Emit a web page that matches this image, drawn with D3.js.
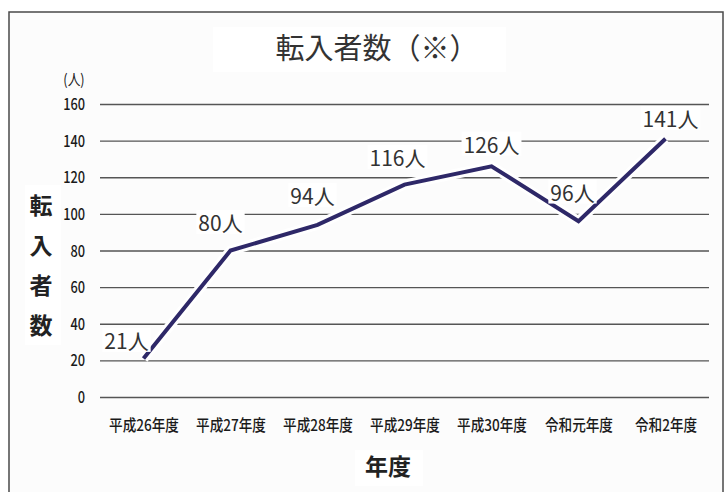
<!DOCTYPE html>
<html>
<head>
<meta charset="utf-8">
<script src="https://cdn.jsdelivr.net/npm/d3@7"></script>
<style>
  html, body { margin: 0; padding: 0; background: #ffffff; }
  svg { display: block; }
</style>
</head>
<body>
<svg id="chart" width="728" height="492"></svg>
<script>
// ---- data ----
const categories = ["平成26年度", "平成27年度", "平成28年度", "平成29年度", "平成30年度", "令和元年度", "令和2年度"];
const values = [21, 80, 94, 116, 126, 96, 141];
const yTicks = [0, 20, 40, 60, 80, 100, 120, 140, 160];
const valueSuffix = "人";
const chartTitle = "転入者数（※）";
const yTitle = ["転", "入", "者", "数"];
const yUnit = "(人)";
const xTitle = "年度";

// ---- layout (label nudges, pixels) ----
const labelDx = [-17, -10, -5, -7, 0, -6, 5];
const labelDy = [-17, -27, -28, -26, -21, -28, -19];

const svg = d3.select("#chart");
const W = 728, H = 492;
const plotL = 100, plotR = 709, plotT = 104, plotB = 397;
const fontCJK = "'Noto Sans CJK JP', 'Noto Sans', sans-serif";

svg.append("rect").attr("width", W).attr("height", H).attr("fill", "#ffffff");
// frame
svg.append("rect").attr("x", 9).attr("y", 12).attr("width", 714).attr("height", 500)
  .attr("fill", "#fcfcfc").attr("stroke", "#4a4a4a").attr("stroke-width", 1.5);

// white boxes behind titles
svg.append("rect").attr("x", 213).attr("y", 27).attr("width", 293).attr("height", 45).attr("fill", "#fff");
svg.append("rect").attr("x", 25).attr("y", 185).attr("width", 36).attr("height", 160).attr("fill", "#fff");
svg.append("rect").attr("x", 355).attr("y", 450).attr("width", 68).attr("height", 36).attr("fill", "#fff");

const x = d3.scalePoint().domain(categories).range([plotL, plotR]).padding(0.5);
const y = d3.scaleLinear().domain([0, 160]).range([plotB, plotT]);

// y axis with gridlines
const yAxis = svg.append("g").attr("transform", `translate(${plotL},0)`)
  .call(d3.axisLeft(y).tickValues(yTicks).tickSize(-(plotR - plotL)).tickSizeOuter(0));
yAxis.select(".domain").remove();
yAxis.selectAll(".tick line").attr("stroke", "#555").attr("stroke-width", 1.4);
yAxis.selectAll(".tick text")
  .attr("x", null).attr("dy", "0.35em")
  .attr("transform", "translate(-15,0) scale(0.8,1)")
  .attr("text-anchor", "end")
  .attr("fill", "#1a1a1a")
  .style("font-family", fontCJK).style("font-size", "16px").style("font-weight", "500");

// x axis labels
const xAxis = svg.append("g").attr("transform", `translate(0,${plotB})`)
  .call(d3.axisBottom(x).tickSize(0).tickPadding(0));
xAxis.select(".domain").remove();
xAxis.selectAll(".tick text")
  .attr("y", null).attr("dy", null)
  .attr("transform", "translate(0,34) scale(0.85,1)")
  .attr("fill", "#1a1a1a")
  .style("font-family", fontCJK).style("font-size", "16px").style("font-weight", "500");

// line
const line = d3.line().x((d, i) => x(categories[i])).y(d => y(d));
svg.append("path").datum(values).attr("d", line)
  .attr("fill", "none").attr("stroke", "#ffffff").attr("stroke-width", 10)
  .attr("stroke-linejoin", "miter");
svg.append("path").datum(values).attr("d", line)
  .attr("fill", "none").attr("stroke", "#2e2868").attr("stroke-width", 4)
  .attr("stroke-linejoin", "miter");

// value labels
const lg = svg.append("g");
values.forEach((v, i) => {
  const cx = x(categories[i]) + labelDx[i];
  const cy = y(v) + labelDy[i];
  const g = lg.append("g");
  const t = g.append("text")
    .attr("x", cx).attr("y", cy).attr("dy", "0.35em")
    .attr("text-anchor", "middle")
    .attr("fill", "#333")
    .style("font-family", fontCJK).style("font-size", "21px").style("font-weight", "400")
    .text(v + valueSuffix);
  const b = t.node().getBBox();
  g.insert("rect", "text").attr("x", b.x - 2).attr("y", b.y + 3).attr("width", b.width + 4).attr("height", b.height - 6)
    .attr("fill", "#fff");
});

// title
svg.append("text").attr("x", 377).attr("y", 49).attr("dy", "0.35em")
  .attr("text-anchor", "middle").attr("fill", "#333")
  .style("font-family", fontCJK).style("font-size", "29px")
  .text(chartTitle);

// y unit
svg.append("text").attr("x", 74).attr("y", 80).attr("dy", "0.35em")
  .attr("text-anchor", "middle").attr("fill", "#222")
  .attr("transform", "translate(74,0) scale(0.85,1) translate(-74,0)")
  .style("font-family", fontCJK).style("font-size", "15px")
  .text(yUnit);

// y title (vertical)
yTitle.forEach((c, i) => {
  svg.append("text").attr("x", 41).attr("y", 206 + i * 40).attr("dy", "0.35em")
    .attr("text-anchor", "middle").attr("fill", "#222")
    .style("font-family", fontCJK).style("font-size", "23px").style("font-weight", "bold")
    .text(c);
});

// x title
svg.append("text").attr("x", 388).attr("y", 467).attr("dy", "0.35em")
  .attr("text-anchor", "middle").attr("fill", "#222")
  .style("font-family", fontCJK).style("font-size", "23px").style("font-weight", "bold")
  .text(xTitle);
</script>
</body>
</html>
